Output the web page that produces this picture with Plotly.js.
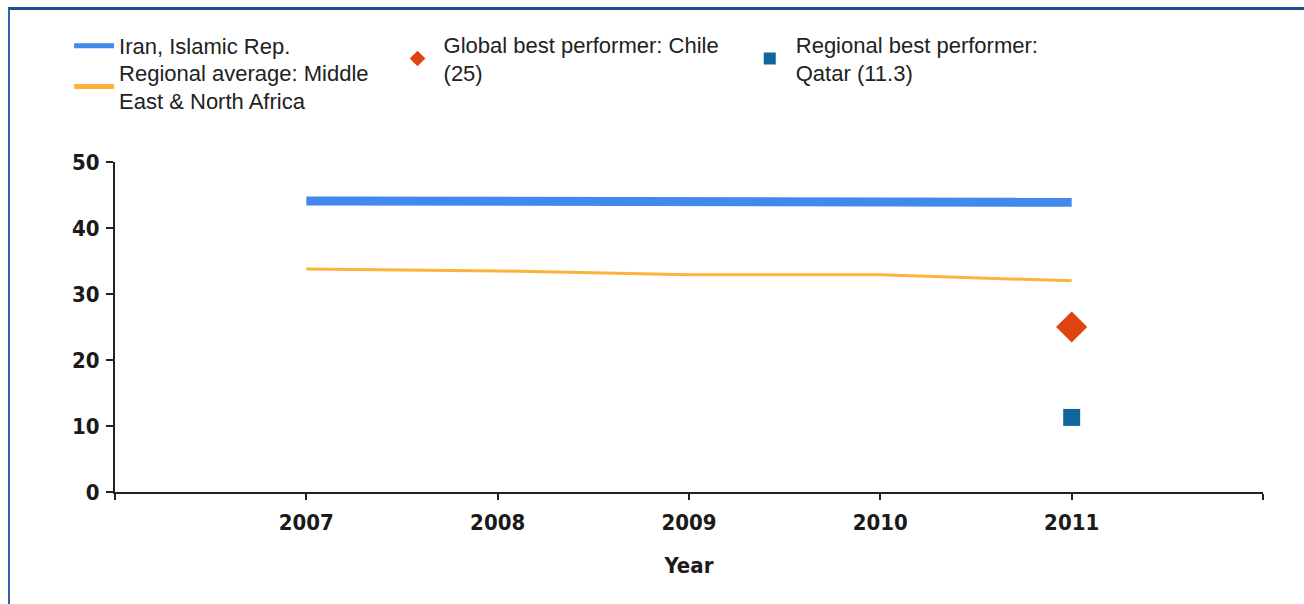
<!DOCTYPE html>
<html>
<head>
<meta charset="utf-8">
<script src="https://cdn.plot.ly/plotly-3.0.1.min.js"></script>
<style>
  html, body { margin: 0; padding: 0; background: #fff; }
  #wrap { position: relative; width: 1304px; height: 604px; overflow: hidden; }
  #chart { position: absolute; left: 0; top: 0; width: 1304px; height: 604px; }
  #frame { position: absolute; left: 8px; top: 7px; right: -4px; bottom: -4px;
           border-left: 2px solid #2f64ab; border-top: 3px solid #1d4f91; pointer-events: none; }
</style>
</head>
<body>
<div id="wrap"><div id="chart"></div><div id="frame"></div></div>
<script>
// ---- data ----
const years = [2007, 2008, 2009, 2010, 2011];
const iranValues = [44.1, 44.1, 44.0, 43.9, 43.9];
const regionalAvgValues = [33.8, 33.5, 32.9, 32.9, 32.0];
const globalBestYear = [2011];
const globalBestValue = [25];
const regionalBestYear = [2011];
const regionalBestValue = [11.3];
const xTickVals = [2006, 2007, 2008, 2009, 2010, 2011, 2012];
const xTickText = ['', '2007', '2008', '2009', '2010', '2011', ''];
const yTickVals = [0, 10, 20, 30, 40, 50];

const legendFont = { family: 'Liberation Sans, Arial, sans-serif', size: 22, color: '#222' };
const tickFont = { family: 'DejaVu Sans Condensed, DejaVu Sans, sans-serif', size: 22, color: '#1a1a1a', weight: 700 };

const traces = [
  { x: years, y: iranValues, type: 'scatter', mode: 'lines', name: 'Iran, Islamic Rep.',
    line: { color: '#4189ec', width: 9 }, legend: 'legend' },
  { x: years, y: regionalAvgValues, type: 'scatter', mode: 'lines', name: 'Regional average: Middle<br>East & North Africa',
    line: { color: '#fdb23a', width: 3 }, legend: 'legend2' },
  { x: globalBestYear, y: globalBestValue, type: 'scatter', mode: 'markers', name: 'Global best performer: Chile<br>(25)',
    marker: { symbol: 'diamond', color: '#dd4410', size: 24 }, legend: 'legend3' },
  { x: regionalBestYear, y: regionalBestValue, type: 'scatter', mode: 'markers', name: 'Regional best performer:<br>Qatar (11.3)',
    marker: { symbol: 'square', color: '#11679c', size: 17 }, legend: 'legend4' }
];

const legendBase = { font: legendFont, bgcolor: 'rgba(0,0,0,0)', borderwidth: 0, xanchor: 'left', yanchor: 'top',
                     itemsizing: 'constant', valign: 'middle', tracegroupgap: 0 };

const layout = {
  width: 1304, height: 604,
  margin: { l: 115, r: 41, t: 162, b: 112 },
  paper_bgcolor: '#fff', plot_bgcolor: '#fff',
  showlegend: true,
  legend: Object.assign({}, legendBase, { x: -0.040, y: 1.415, itemwidth: 40 }),
  legend2: Object.assign({}, legendBase, { x: -0.040, y: 1.335, itemwidth: 40 }),
  legend3: Object.assign({}, legendBase, { x: 0.2409, y: 1.420, itemwidth: 42 }),
  legend4: Object.assign({}, legendBase, { x: 0.5477, y: 1.420, itemwidth: 42 }),
  xaxis: {
    range: [2006, 2012], tickmode: 'array', tickvals: xTickVals, ticktext: xTickText,
    showgrid: false, zeroline: false, showline: true, linecolor: '#222', linewidth: 2,
    ticks: 'outside', ticklen: 6, tickwidth: 2, tickcolor: '#222', tickfont: tickFont,
    ticklabelstandoff: 4,
    title: { text: 'Year', font: tickFont, standoff: 23 }
  },
  yaxis: {
    range: [0, 50], tickmode: 'array', tickvals: yTickVals,
    showgrid: false, zeroline: false, showline: true, linecolor: '#222', linewidth: 2,
    ticks: 'outside', ticklen: 7, tickwidth: 2, tickcolor: '#222', tickfont: tickFont,
    ticklabelstandoff: 2
  }
};

Plotly.newPlot('chart', traces, layout, { displayModeBar: false, staticPlot: true });
</script>
</body>
</html>
